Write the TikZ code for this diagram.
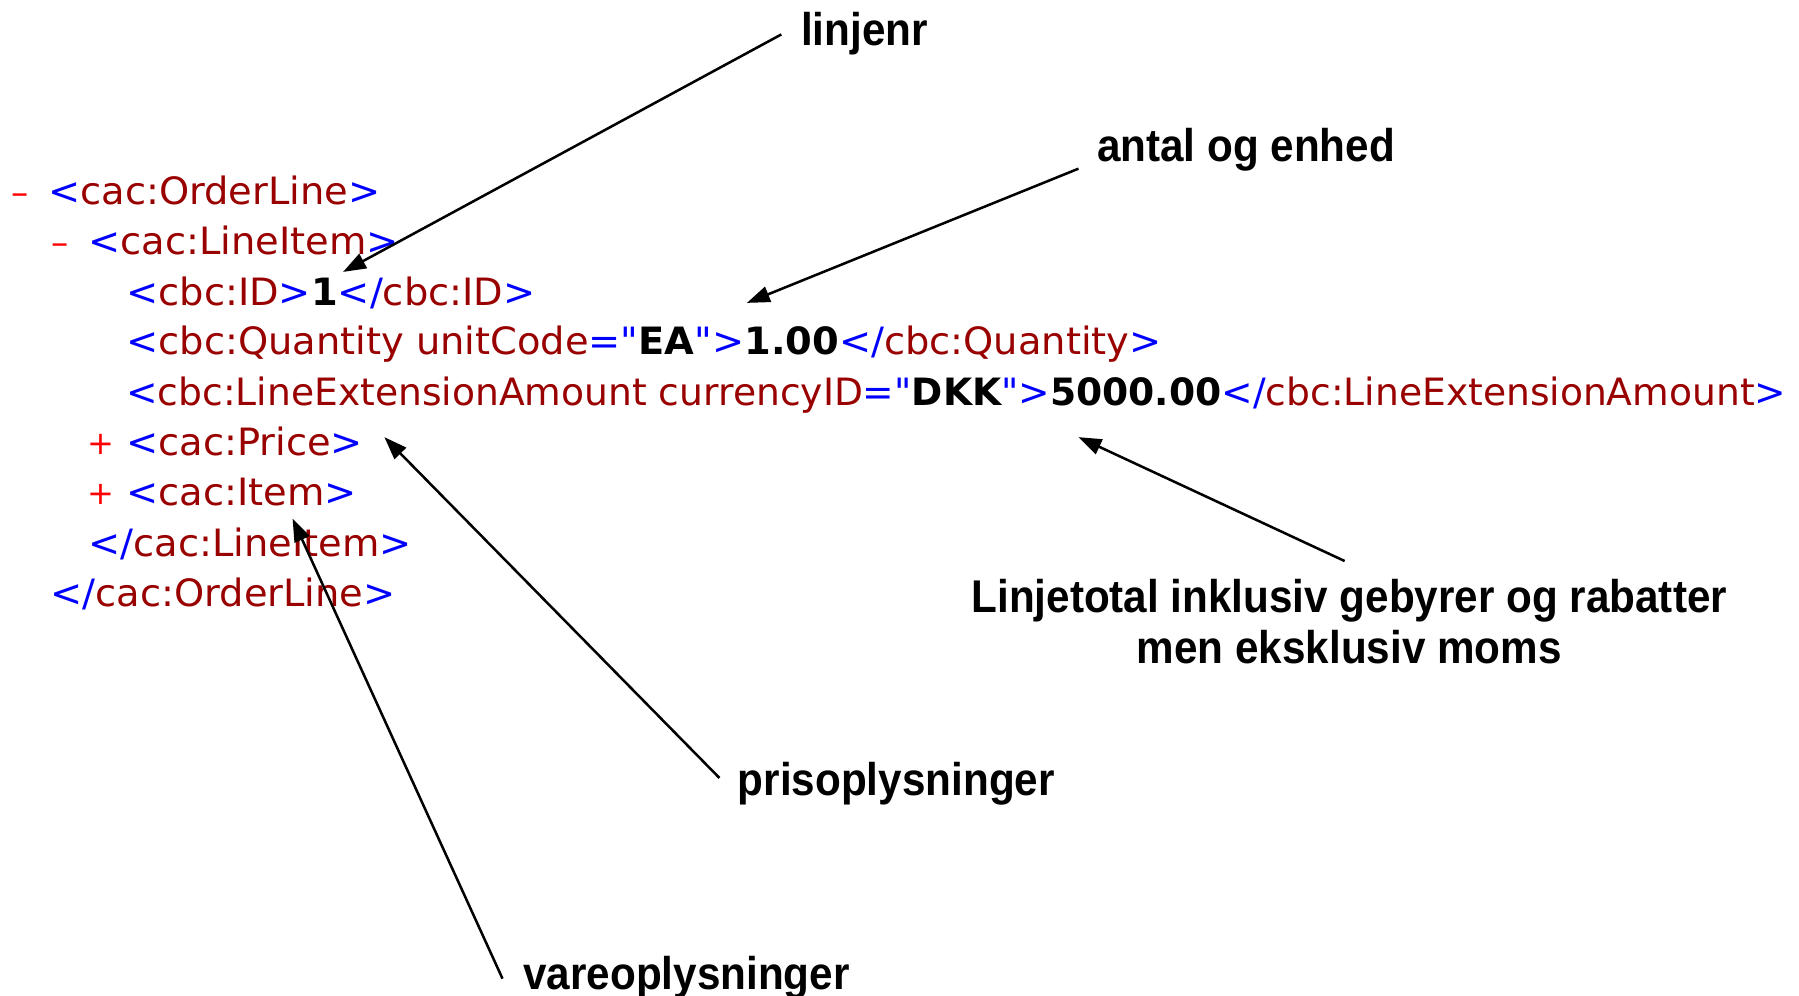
\documentclass[tikz,border=0pt]{standalone}
\usepackage{fontspec}
\usetikzlibrary{arrows.meta}
\newfontfamily\xmlfont{DejaVu Sans}[FakeStretch=1.02]
\newfontfamily\xmlfontlong{DejaVu Sans}
\newfontfamily\lblfont{Liberation Sans}[FakeStretch=0.92]
\definecolor{tagblue}{RGB}{0,0,255}
\definecolor{tagred}{RGB}{153,0,0}
\definecolor{signred}{RGB}{255,0,0}
\newcommand\xb[1]{\textcolor{tagblue}{#1}}
\newcommand\xr[1]{\textcolor{tagred}{#1}}
\newcommand\xv[1]{\textcolor{black}{\bfseries #1}}
\tikzset{
  xml/.style={anchor=base west, inner sep=0pt, font=\xmlfont\fontsize{32.8}{36}\selectfont},
  xmllong/.style={anchor=base west, inner sep=0pt, font=\xmlfontlong\fontsize{32.8}{36}\selectfont},
  sign/.style={anchor=base west, inner sep=0pt, text=signred, font=\xmlfontlong\fontsize{30}{34}\selectfont},
  plussign/.style={anchor=base west, inner sep=0pt, text=signred, font=\xmlfontlong\fontsize{28}{32}\selectfont},
  lbl/.style={anchor=base west, inner sep=0pt, font=\lblfont\bfseries\fontsize{40}{44}\selectfont},
  arr/.style={draw=black, line width=2.2pt, -{Triangle[length=20pt,width=14pt]}}
}
\begin{document}
\begin{tikzpicture}[x=1pt,y=-1pt]
\useasboundingbox (0,0) rectangle (1568,868);
% XML lines
\node[sign] (s1) at (10,178) {–};
\node[xml] (x1) at (42,178) {\xb{<}\xr{cac:OrderLine}\xb{>}};
\node[sign] (s2) at (45,222) {–};
\node[xml] (x2) at (77,222) {\xb{<}\xr{cac:LineItem}\xb{>}};
\node[xml] (x3) at (110,266) {\xb{<}\xr{cbc:ID}\xb{>}\xv{1}\xb{</}\xr{cbc:ID}\xb{>}};
\node[xml] (x4) at (110,309) {\xb{<}\xr{cbc:Quantity unitCode}\xb{="}\xv{EA}\xb{">}\xv{1.00}\xb{</}\xr{cbc:Quantity}\xb{>}};
\node[xmllong] (x5) at (110,353) {\xb{<}\xr{cbc:LineExtensionAmount currencyID}\xb{="}\xv{DKK}\xb{">}\xv{5000.00}\xb{</}\xr{cbc:LineExtensionAmount}\xb{>}};
\node[plussign] (s6) at (76,396) {+};
\node[xml] (x6) at (110,397) {\xb{<}\xr{cac:Price}\xb{>}};
\node[plussign] (s7) at (76,440) {+};
\node[xml] (x7) at (110,441) {\xb{<}\xr{cac:Item}\xb{>}};
\node[xml] (x8) at (77,485) {\xb{</}\xr{cac:LineItem}\xb{>}};
\node[xml] (x9) at (44,529) {\xb{</}\xr{cac:OrderLine}\xb{>}};
% labels
\node[lbl] (l1) at (698,40) {linjenr};
\node[lbl] (l2) at (956,141) {antal og enhed};
\node[lbl, anchor=north, align=center] (l3) at (1176,505) {Linjetotal inklusiv gebyrer og rabatter\\men eksklusiv moms};
\node[lbl] (l4) at (643,693) {prisoplysninger};
\node[lbl] (l5) at (456,862) {vareoplysninger};
% arrow end points
\coordinate (a1s) at (681,30);  \coordinate (a1e) at (299,237);
\coordinate (a2s) at (940,147); \coordinate (a2e) at (651,264);
\coordinate (a3s) at (1172,489); \coordinate (a3e) at (940,381);
\coordinate (a4s) at (627,678); \coordinate (a4e) at (335,381);
\coordinate (a5s) at (438,853); \coordinate (a5e) at (255,452);
\draw[arr] (a1s) -- (a1e);
\draw[arr] (a2s) -- (a2e);
\draw[arr] (a3s) -- (a3e);
\draw[arr] (a4s) -- (a4e);
\draw[arr] (a5s) -- (a5e);
\end{tikzpicture}
\end{document}
